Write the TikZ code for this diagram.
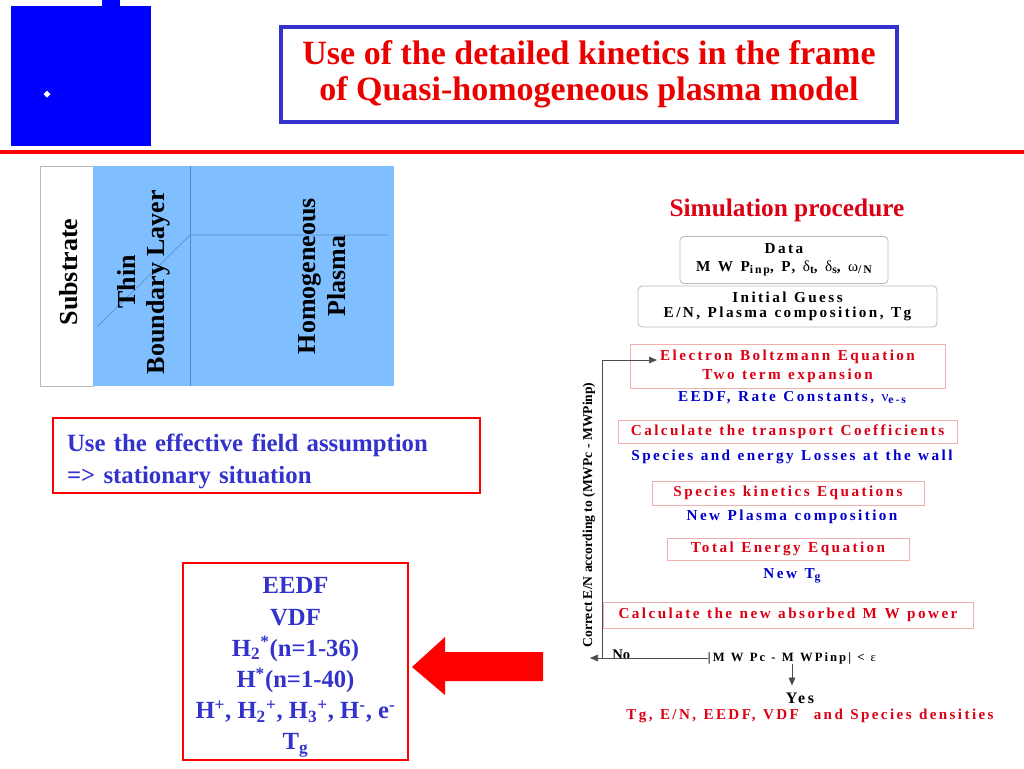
\documentclass[tikz,border=0pt]{standalone}
\usepackage{fontspec}
\setmainfont{Liberation Serif}
\newfontfamily\spacedfont[LetterSpace=16,WordSpace=1.2]{Liberation Serif}
\usetikzlibrary{arrows.meta}
\newcommand\pxu{0.75pt}
\newcommand\sublow[1]{\raisebox{-0.15em}{\fontsize{8.8}{9}\selectfont #1}}
\definecolor{slideblue}{RGB}{0,0,255}
\definecolor{frameblue}{RGB}{51,51,204}
\definecolor{titlered}{RGB}{235,0,0}
\definecolor{textblue}{RGB}{51,51,204}
\definecolor{flowred}{RGB}{220,0,20}
\definecolor{flowblue}{RGB}{0,0,204}
\definecolor{boxpink}{RGB}{240,175,175}
\definecolor{boxgrey}{RGB}{185,185,185}
\definecolor{plasmablue}{RGB}{128,191,255}
\definecolor{plasmaline}{RGB}{80,135,210}
\tikzset{
  flowbox/.style={draw=boxpink, line width=0.6pt, inner sep=0pt, align=center,
    text=flowred, font=\spacedfont\bfseries\fontsize{11.4}{14.25}\selectfont},
  databox/.style={draw=boxgrey, rounded corners=3pt, line width=0.6pt, inner sep=0pt,
    align=center, font=\spacedfont\bfseries\fontsize{11.4}{13.5}\selectfont},
  flowtext/.style={anchor=base, inner sep=0pt, text=flowblue,
    font=\spacedfont\bfseries\fontsize{11.4}{12}\selectfont},
  flowarr/.style={draw=black!70, line width=0.5pt, -{Triangle[length=6pt,width=5pt]}},
  sidelabel/.style={rotate=90, align=center, font=\bfseries\fontsize{19.5}{22}\selectfont},
  redframe/.style={draw=red, line width=2.2pt, inner sep=0pt},
}
\begin{document}
\begin{tikzpicture}[x=0.75pt, y=-0.75pt]
  \useasboundingbox (0,0) rectangle (1024,768);
  % slide decoration
  \fill[slideblue] (11,6) rectangle (151,146);
  \fill[slideblue] (102,0) rectangle (120,6);
  \fill[white] (47,90.5) -- (50.5,94) -- (47,97.5) -- (43.5,94) -- cycle;
  \draw[red, line width=3pt] (0,152) -- (1024,152);
  \node[draw=frameblue, line width=2.3pt, minimum width=616*\pxu, minimum height=95*\pxu,
    inner sep=0pt, align=center, text=titlered, font=\bfseries\fontsize{25.5}{27}\selectfont]
    (title) at (589,74.5) {Use of the detailed kinetics in the frame\\of Quasi-homogeneous plasma model};

  % reactor layers
  \draw[boxgrey, line width=0.6pt] (40,166) rectangle (93,386);
  \fill[plasmablue] (93,166) rectangle (394,386);
  \draw[plasmaline] (190,166) -- (190,386);
  \draw[plasmaline] (97,327) -- (190,235) -- (388,235);
  \node[sidelabel] (substrate) at (69,272) {Substrate};
  \node[sidelabel] (layer) at (144,282) {Thin\\Boundary Layer};
  \node[sidelabel] (plasma) at (322,276) {Homogeneous\\Plasma};

  \node[redframe, minimum width=427*\pxu, minimum height=75*\pxu] (fieldbox) at (266.5,455.5) {};
  \node[inner sep=0pt, text width=399*\pxu, align=left, text=textblue,
    font=\bfseries\fontsize{18.6}{24}\selectfont]
    (field) at (266.5,461) {Use the effective field assumption\\=> stationary situation};

  \node[redframe, minimum width=225*\pxu, minimum height=197*\pxu] (speciesbox) at (295.5,661.5) {};
  \node[inner sep=0pt, align=center, text=textblue, font=\bfseries\fontsize{18.5}{23.4}\selectfont]
    (species) at (295.5,667.5)
    {EEDF\\VDF\\H\textsubscript{2}\textsuperscript{*}(n=1-36)\\H\textsuperscript{*}(n=1-40)\\
     H\textsuperscript{+}, H\textsubscript{2}\textsuperscript{+}, H\textsubscript{3}\textsuperscript{+}, H\textsuperscript{-}, e\textsuperscript{-}\\T\textsubscript{g}};
  \fill[red] (543,652) -- (445,652) -- (445,637) -- (412,667) -- (445,695) -- (445,681) -- (543,681) -- cycle;

  % simulation procedure
  \node[text=flowred, font=\bfseries\fontsize{19}{21}\selectfont] (simproc) at (787,210) {Simulation procedure};
  \node[databox, minimum width=208*\pxu, minimum height=47*\pxu] (data) at (784,260)
    {Data\\M W P\sublow{inp}, P, {\mdseries δ}\sublow{t}, {\mdseries δ}\sublow{s}, {\mdseries ω}\sublow{/N}};
  \node[databox, minimum width=299*\pxu, minimum height=41*\pxu, font=\spacedfont\bfseries\fontsize{11.4}{11.8}\selectfont]
    (guess) at (787.5,306.5) {Initial Guess\\E/N, Plasma composition, Tg};
  \node[flowbox, minimum width=315*\pxu, minimum height=44*\pxu] (boltz) at (787.5,366)
    {Electron Boltzmann Equation\\Two term expansion};
  \node[flowtext] (rates) at (792,401) {EEDF, Rate Constants, {\mdseries ν}\sublow{e-s}};
  \node[flowbox, minimum width=339*\pxu, minimum height=23*\pxu] (transp) at (787.5,431.5)
    {Calculate the transport Coefficients};
  \node[flowtext] (losses) at (792,460) {Species and energy Losses at the wall};
  \node[flowbox, minimum width=272*\pxu, minimum height=24*\pxu] (kinet) at (788,493)
    {Species kinetics Equations};
  \node[flowtext] (compo) at (792,520) {New Plasma composition};
  \node[flowbox, minimum width=242*\pxu, minimum height=22*\pxu] (energy) at (788,549)
    {Total Energy Equation};
  \node[flowtext] (newtg) at (792,578) {New T\sublow{g}};
  \node[flowbox, minimum width=370*\pxu, minimum height=26*\pxu] (power) at (788,615)
    {Calculate the new absorbed M W power};
  \node[anchor=base, inner sep=0pt, font=\spacedfont\bfseries\fontsize{9.5}{11}\selectfont]
    (cond) at (792,661) {|M W Pc - M WPinp| < {\mdseries ε}};
  \node[anchor=base west, inner sep=0pt, font=\bfseries\fontsize{11}{12}\selectfont] (no) at (612,659) {No};
  \node[anchor=base, inner sep=0pt, font=\spacedfont\bfseries\fontsize{12}{14}\selectfont] (yes) at (800,703) {Yes};
  \node[anchor=base, inner sep=0pt, text=flowred, font=\spacedfont\bfseries\fontsize{11.3}{13}\selectfont]
    (final) at (810,719) {Tg, E/N, EEDF, VDF\ \ and Species densities};
  \node[rotate=90, font=\bfseries\fontsize{10.2}{12}\selectfont] (correct) at (589,515)
    {Correct E/N according to (MWPc - MWPinp)};

  % feedback loop
  \coordinate (noend) at (590,657);
  \coordinate (loopin) at (657,360);
  \draw[flowarr] (cond.west) -- (cond.west -| noend);
  \draw[flowarr] (cond.west -| power.west) |- (loopin);
  \draw[flowarr, shorten >=5pt] (cond.south) -- (cond.south |- yes.north);
\end{tikzpicture}
\end{document}
